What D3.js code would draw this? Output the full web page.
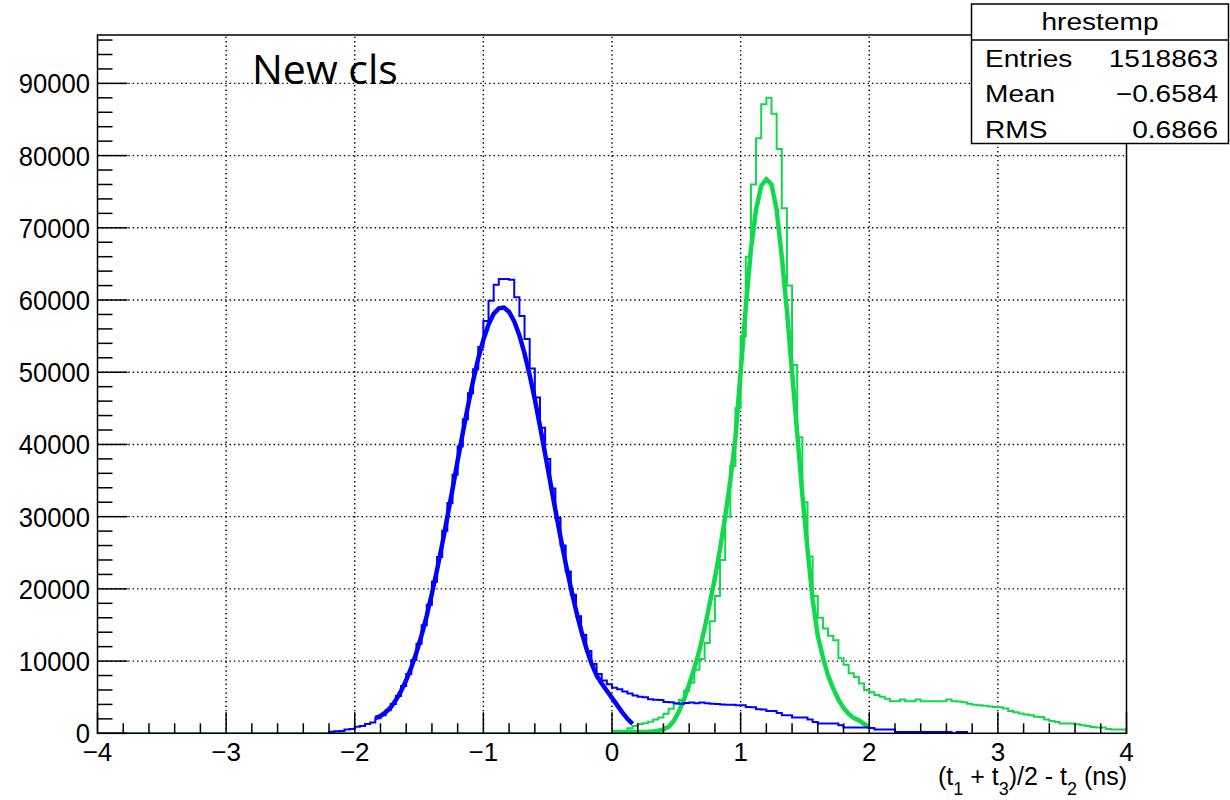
<!DOCTYPE html>
<html><head><meta charset="utf-8">
<script src="https://cdn.jsdelivr.net/npm/d3@7"></script>
<style>body{margin:0;background:#fff}svg{display:block}</style>
</head><body>
<svg id="c" width="1230" height="800"></svg>
<script>
// ---------------- data ----------------
const binWidth = 0.04;
const xDomain = [-4, 4];
const yDomain = [0, 96700];
const xTicks = [-4, -3, -2, -1, 0, 1, 2, 3, 4];
const xTickLabels = ["\u22124", "\u22123", "\u22122", "\u22121", "0", "1", "2", "3", "4"];
const yTicks = [0, 10000, 20000, 30000, 40000, 50000, 60000, 70000, 80000, 90000];
const yTickLabels = ["0", "10000", "20000", "30000", "40000", "50000", "60000", "70000", "80000", "90000"];

// thin blue histogram: first bin left edge, then bin contents (bin width 0.04)
const blueHistStart = -2.20;
const blueHist = [
  200, 280, 330, 520, 600, 900, 1000, 1300, 1500,
  2100, 2500, 3200, 4050, 5150, 6550, 8200, 10150, 12400, 14950,
  17800, 21000, 24400, 28050, 31900, 35800, 39700, 43500, 47100, 50400,
  53500, 57100, 59900, 62100, 62900, 62900, 62800, 60400, 57800, 54600,
  50500, 46500, 42300, 38000, 33900, 29800, 26000, 22400, 19200, 16200,
  13600, 11400, 9600, 8200, 7300, 6800,
  6300, 6100, 5800, 5500, 5250, 5050, 5000, 4700, 4650, 4600,
  4350, 4300, 4150, 4100, 4200, 4250, 4150, 4250, 4150, 4100,
  4050, 4000, 3950, 3950, 3900, 3880, 3650, 3600, 3330, 3300,
  3100, 3100, 2820, 2500, 2500, 2180, 2180, 2180, 1900, 1570,
  1340, 1340, 1340, 1340, 1110, 790, 790, 790, 790, 790,
  740, 510, 510, 510, 510, 185, 185, 185, 185, 185,
  185, 185, 185, 185, 185, 185, 0, 185, 185
];

// thick blue curve: first sample position, then values every 0.04
const blueCurveStart = -1.84;
const blueCurve = [
  2100, 2400, 2900, 3600, 4600, 5850, 7350, 9150, 11200, 13600,
  16300, 19350, 22650, 26200, 29950, 33800, 37750, 41600, 45300, 48800,
  51900, 54500, 56600, 58100, 58850, 58950, 58350, 57050, 55100, 52600,
  49600, 46250, 42550, 38700, 34800, 30900, 27150, 23500, 20150, 17050,
  14250, 11800, 9700, 8000, 6900, 5900, 4900, 3900, 2900, 2000, 1300
];

// thin green histogram: zero from -4 to 0, then bins of 0.04
const greenHistStart = 0.00;
const greenHist = [
  100, 150, 300, 700, 1000, 1300, 1400, 1600, 1900, 2200,
  2700, 3400, 4100, 4600, 5900, 7000, 8800, 10300, 12500, 15500,
  19000, 24000, 30000, 37000, 45000, 55000, 66000, 76000, 82400, 87100,
  88000, 85800, 80900, 72700, 62000, 51000, 41000, 32000, 24500, 19000,
  16000, 14500, 13500, 12900, 10400, 9500, 8300, 7800, 6900, 6000,
  5700, 5300, 5050, 4800, 4450, 4450, 4680, 4450, 4450, 4680,
  4450, 4450, 4450, 4450, 4450, 4680, 4450, 4400, 4300, 4100,
  3950, 3900, 3800, 3700, 3650, 3600, 3450, 3100, 2900, 2730,
  2600, 2500, 2300, 2270, 1900, 1700, 1570, 1340, 1340, 1340,
  1250, 1110, 1000, 880, 800, 790, 600, 510, 510, 510
];

// thick green curve
const greenCurveStart = 0.00;
const greenCurve = [
  185, 185, 185, 185, 185, 185, 185, 200, 250, 350,
  550, 900, 1700, 3000, 4700, 6800, 9000, 11500, 14500, 18000,
  21500, 25500, 30000, 35000, 41000, 50000, 59000, 67000, 72500, 75800,
  76700, 76000, 72500, 66000, 58500, 50000, 41500, 33000, 25500, 18500,
  13500, 10500, 8000, 6200, 4700, 3500, 2700, 2100, 1800, 1300, 800
];

const statsTitle = "hrestemp";
const statsNames = ["Entries", "Mean", "RMS"];
const statsValues = ["1518863", "\u22120.6584", "0.6866"];
const plotLabel = "New cls";

// ---------------- layout ----------------
const L = 97.5, R = 1126.5, T = 35, B = 733.3;
const BLUE = "#0000ff", GREEN = "#12d84b";
const svg = d3.select("#c");
const x = d3.scaleLinear().domain(xDomain).range([L, R]);
const y = d3.scaleLinear().domain(yDomain).range([B, T]);

svg.append("defs").append("clipPath").attr("id", "clip")
  .append("rect").attr("x", L).attr("y", T).attr("width", R - L).attr("height", B - T);

// grid
const grid = svg.append("g").attr("stroke", "#000").attr("stroke-width", 1.4)
  .attr("stroke-dasharray", "1.4 3");
xTicks.filter(t => t > xDomain[0] && t < xDomain[1]).forEach(t => {
  grid.append("line").attr("x1", x(t)).attr("x2", x(t)).attr("y1", B).attr("y2", T);
});
yTicks.filter(t => t > 0).forEach(t => {
  grid.append("line").attr("x1", L).attr("x2", R).attr("y1", y(t)).attr("y2", y(t));
});

// helpers
function histPoints(start, vals, leadZeroFrom) {
  const pts = [];
  if (leadZeroFrom !== undefined) pts.push([leadZeroFrom, 0]);
  pts.push([start, 0]);
  vals.forEach((v, i) => {
    const a = start + i * binWidth, b = start + (i + 1) * binWidth;
    pts.push([a, v]); pts.push([b, v]);
  });
  pts.push([start + vals.length * binWidth, 0]);
  return pts;
}
function curvePoints(start, vals) { return vals.map((v, i) => [start + i * binWidth, v]); }
const line = d3.line().x(d => x(d[0])).y(d => y(d[1]));

const plot = svg.append("g").attr("clip-path", "url(#clip)").attr("fill", "none")
  .attr("stroke-linejoin", "miter");

plot.append("path").attr("d", line(histPoints(greenHistStart, greenHist, xDomain[0])))
  .attr("stroke", GREEN).attr("stroke-width", 2);
plot.append("path").attr("d", line(curvePoints(greenCurveStart, greenCurve)))
  .attr("stroke", GREEN).attr("stroke-width", 4.5);
plot.append("path").attr("d", line(histPoints(blueHistStart, blueHist)))
  .attr("stroke", BLUE).attr("stroke-width", 2);
plot.append("path").attr("d", line(curvePoints(blueCurveStart, blueCurve)))
  .attr("stroke", BLUE).attr("stroke-width", 4.5);

// frame
svg.append("rect").attr("x", L).attr("y", T).attr("width", R - L).attr("height", B - T)
  .attr("fill", "none").attr("stroke", "#000").attr("stroke-width", 1.5);

// ticks
const ax = svg.append("g").attr("stroke", "#000").attr("stroke-width", 1.5);
for (let i = 0; i <= 40; i++) {
  const v = xDomain[0] + i * 0.2;
  const major = i % 5 === 0;
  ax.append("line").attr("x1", x(v)).attr("x2", x(v)).attr("y1", B).attr("y2", B - (major ? 21 : 10));
}
for (let v = 0; v <= yDomain[1]; v += 2000) {
  const major = v % 10000 === 0;
  ax.append("line").attr("x1", L).attr("x2", L + (major ? 30 : 15)).attr("y1", y(v)).attr("y2", y(v));
}

// tick labels
const font = "'Liberation Sans', Arial, Helvetica, sans-serif";
svg.append("g").selectAll("text").data(yTicks).join("text")
  .attr("x", 90).attr("y", d => y(d) + 10).attr("text-anchor", "end")
  .attr("font-family", font).attr("font-size", 27).attr("fill", "#000")
  .attr("transform", "translate(90,0) scale(0.95,1) translate(-90,0)")
  .text((d, i) => yTickLabels[i]);
svg.append("g").selectAll("text").data(xTicks).join("text")
  .attr("x", d => x(d)).attr("y", 761).attr("text-anchor", "middle")
  .attr("font-family", font).attr("font-size", 26).attr("fill", "#000")
  .text((d, i) => xTickLabels[i]);

// axis title
const tt = svg.append("text").attr("x", 1127).attr("y", 785).attr("text-anchor", "end")
  .attr("font-family", font).attr("font-size", 25).attr("fill", "#000");
const parts = [["(t", 0], ["1", 1], [" + t", 0], ["3", 1], [")/2 - t", 0], ["2", 1], [" (ns)", 0]];
let cur = 0;
parts.forEach(([s, sub]) => {
  const dy = sub ? 10 : 0;
  tt.append("tspan").attr("dy", dy - cur).attr("font-size", sub ? 18 : 25).text(s);
  cur = dy;
});

// plot label
svg.append("text").attr("x", 252).attr("y", 84).attr("font-family", "'Open Sans', 'Noto Sans', sans-serif")
  .attr("font-size", 41).attr("fill", "#000").text(plotLabel);

// stats box
const sb = svg.append("g");
sb.append("rect").attr("x", 971.5).attr("y", 4).attr("width", 257).attr("height", 139.5)
  .attr("fill", "#fff").attr("stroke", "#000").attr("stroke-width", 1.5);
sb.append("line").attr("x1", 971.5).attr("x2", 1228.5).attr("y1", 40).attr("y2", 40)
  .attr("stroke", "#000").attr("stroke-width", 1.5);
function stext(xp, yp, s, anchor) {
  sb.append("text").attr("x", 0).attr("y", 0).attr("text-anchor", anchor)
    .attr("transform", `translate(${xp},${yp}) scale(1.17,1)`)
    .attr("font-family", font).attr("font-size", 24).attr("fill", "#000").text(s);
}
stext(1100, 30, statsTitle, "middle");
statsNames.forEach((n, i) => {
  stext(985, 67 + i * 35.3, n, "start");
  stext(1218, 67 + i * 35.3, statsValues[i], "end");
});
</script>
</body></html>
